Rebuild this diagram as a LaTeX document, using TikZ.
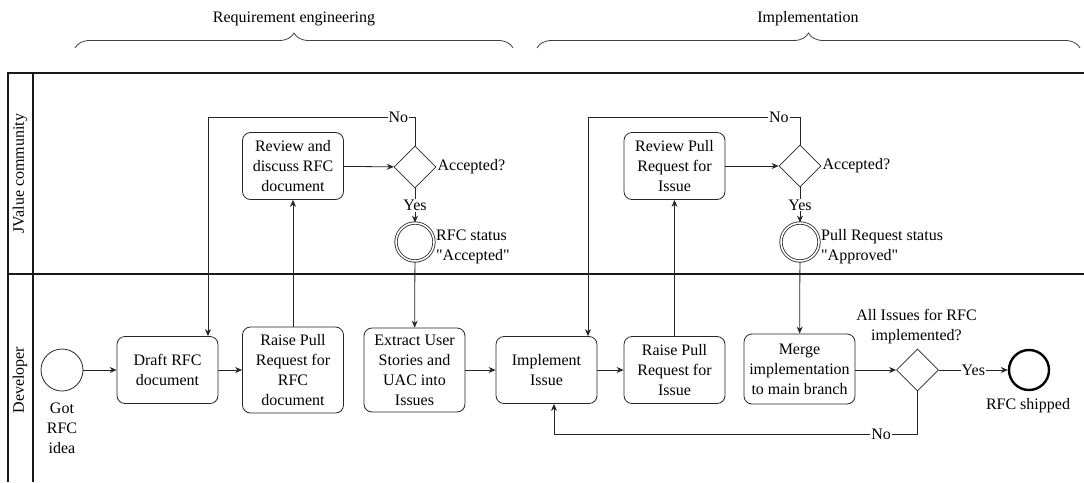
\documentclass[tikz,border=0pt]{standalone}
\usepackage{fontspec}
\setmainfont{Liberation Serif}[Ligatures=TeXOff]
\usetikzlibrary{arrows.meta,shapes.geometric,decorations.pathreplacing}

\begin{document}
\begin{tikzpicture}[x=1pt,y=-1pt,
        font=\fontsize{16}{20}\selectfont,
        task/.style={draw=black!85,line width=0.8pt,rounded corners=8pt,align=center,minimum width=101pt,inner sep=3pt},
        gate/.style={draw=black!85,line width=0.8pt,diamond,minimum width=42pt,minimum height=42pt,inner sep=0pt},
        event/.style={draw=black!85,line width=0.8pt,circle,minimum size=42pt,inner sep=0pt},
        status/.style={draw=black!85,line width=0.8pt,circle,double,double distance=1.6pt,minimum size=38pt,inner sep=0pt},
        flow/.style={draw=black!85,line width=0.8pt,-{Stealth[length=7pt,width=6pt]}},
        lbl/.style={fill=white,inner sep=1pt},
        lane/.style={line width=1.6pt,black!90},
        phase/.style={draw=black!75,line width=0.8pt,decorate,decoration={brace,amplitude=15pt}}]
            \useasboundingbox (0,0) rectangle (1084,482);
            \draw[lane] (8,482) -- (8,73) -- (1084,73);
            \draw[lane] (33,73) -- (33,482);
            \draw[lane] (8,274) -- (1084,274);
            \node[rotate=90] (community) at (20,173.5) {JValue community};
            \node[rotate=90] (developer) at (20,380) {Developer};
            \draw[phase] (75,48) -- (513,48);
            \draw[phase] (537,48) -- (1080,48);
            \node (reqeng) at (294,19) {Requirement engineering};
            \node (implphase) at (808,19) {Implementation};
            \node[event] (idea) at (62,370) {};
            \node[align=center] (idealbl) at (62,428) {Got\\RFC\\idea};
            \node[task,minimum height=67pt] (draft) at (167.5,370) {Draft RFC\\document};
            \node[task,minimum height=86pt] (prrfc) at (293,370) {Raise Pull\\Request for\\RFC\\document};
            \node[task,minimum height=84pt] (extract) at (414.5,370) {Extract User\\Stories and\\UAC into\\Issues};
            \node[task,minimum height=67pt] (impl) at (546.5,370) {Implement\\Issue};
            \node[task,minimum height=67pt] (prissue) at (674.5,370) {Raise Pull\\Request for\\Issue};
            \node[task,minimum width=111pt,minimum height=70pt] (merge) at (799.5,369) {Merge\\implementation\\to main branch};
            \node[gate] (allq) at (917.5,370) {};
            \node[align=center] (allqlbl) at (916.5,327) {All Issues for RFC\\implemented?};
            \node[event,line width=2.4pt,draw=black,minimum size=40pt] (shipped) at (1029,370) {};
            \node (shippedlbl) at (1028,406) {RFC shipped};
            \node[task,minimum height=67pt] (review) at (293,166) {Review and\\discuss RFC\\document};
            \node[gate] (accq) at (415,167) {};
            \node[anchor=west,inner sep=1pt] (acclbl) at (accq.east) {Accepted?};
            \node[status] (rfcok) at (415,242) {};
            \node[anchor=west,align=left,inner sep=1pt] (rfcoklbl) at (435,247) {RFC status\\"Accepted"};
            \node[task,minimum height=67pt] (reviewpr) at (674.5,166) {Review Pull\\Request for\\Issue};
            \node[gate] (prq) at (800,166) {};
            \node[anchor=west,inner sep=1pt] (prqlbl) at (prq.east) {Accepted?};
            \node[status] (prok) at (800,242) {};
            \node[anchor=west,align=left,inner sep=1pt] (proklbl) at (820,247) {Pull Request status\\"Approved"};
            \coordinate (back1) at (208,117);
            \coordinate (back2) at (588,117);
            \coordinate (back3) at (554,434);
            \draw[flow] (idea) -- (draft);
            \draw[flow] (draft) -- (prrfc);
            \draw[flow] (prrfc) -- (review);
            \draw[flow] (review) -- (accq);
            \draw[flow] (accq) -- node[lbl]{Yes} (rfcok);
            \draw[flow] (accq.north) |- node[lbl,pos=0.54]{No} (back1) -- (draft.north -| back1);
            \draw[flow] (rfcok) -- (extract);
            \draw[flow] (extract) -- (impl);
            \draw[flow] (impl) -- (prissue);
            \draw[flow] (prissue) -- (reviewpr);
            \draw[flow] (reviewpr) -- (prq);
            \draw[flow] (prq) -- node[lbl]{Yes} (prok);
            \draw[flow] (prq.north) |- node[lbl,pos=0.55]{No} (back2) -- (impl.north -| back2);
            \draw[flow] (prok) -- (merge);
            \draw[flow] (merge.east |- allq) -- (allq);
            \draw[flow] (allq) -- node[lbl]{Yes} (shipped);
            \draw[flow] (allq.south) |- node[lbl,pos=0.55]{No} (back3) -- (impl.south -| back3);
        \end{tikzpicture}
\end{document}
